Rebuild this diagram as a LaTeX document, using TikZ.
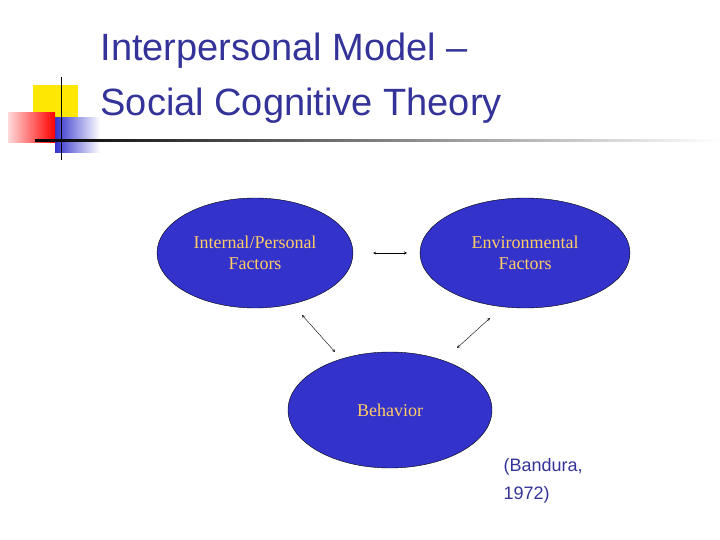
\documentclass[tikz,border=0pt]{standalone}
\usepackage{fontspec}
\setmainfont{Liberation Serif}
\setsansfont{Liberation Sans}
\usetikzlibrary{shapes.geometric}
\definecolor{titleblue}{RGB}{51,51,153}
\definecolor{ovalblue}{RGB}{51,51,204}
\definecolor{ovaltext}{RGB}{255,204,102}
\begin{document}
\begin{tikzpicture}[x=1pt,y=-1pt]
    \tikzstyle{oval}=[draw=black,fill=ovalblue,ellipse,text=ovaltext,align=center,font=\fontsize{18}{21}\selectfont]
    \tikzstyle{link}=[draw,<->,>=stealth,thin]

    \useasboundingbox (0,0) rectangle (720,540);

    % corner ornament
    \fill[yellow!90!orange] (33,85) rectangle (78,122);
    \shade[left color=ovalblue,right color=white] (55,118) rectangle (100,153);
    \shade[left color=red!15,right color=red] (8,113) rectangle (55,143);
    \draw[thick] (61,77) -- (61,160);
    \shade[left color=black,right color=white] (35,140) rectangle (720,142);

    \node[anchor=west,text=titleblue,align=left,font=\sffamily\fontsize{38}{55}\selectfont] (title) at (97,78) {Interpersonal Model --\\Social Cognitive Theory};

    \node[oval,minimum width=196,minimum height=110] (inner) at (255,253) {Internal/Personal\\Factors};
    \node[oval,minimum width=210,minimum height=110] (env) at (525,253) {Environmental\\Factors};
    \node[oval,minimum width=204,minimum height=116] (beh) at (390,410) {Behavior};

    \coordinate (a1) at (373,253); \coordinate (a2) at (407,253);
    \coordinate (b1) at (302,315); \coordinate (b2) at (335,352);
    \coordinate (c1) at (490,318); \coordinate (c2) at (457,348);
    \path[link] (a1) -- (a2);
    \path[link] (b1) -- (b2);
    \path[link] (c1) -- (c2);

    \node[anchor=north west,text=titleblue,align=left,font=\sffamily\fontsize{18}{28}\selectfont] (cite) at (500,455) {(Bandura,\\1972)};
\end{tikzpicture}
\end{document}
